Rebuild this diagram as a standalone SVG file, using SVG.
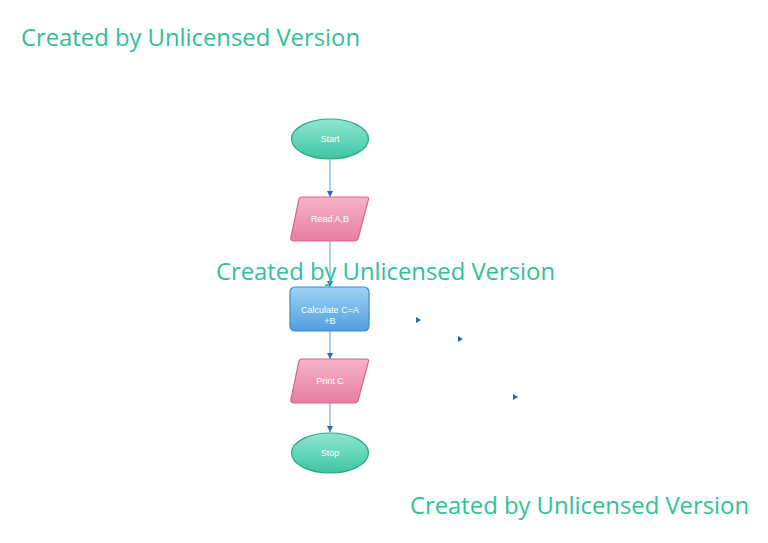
<svg xmlns="http://www.w3.org/2000/svg" width="768" height="543" viewBox="0 0 768 543">
<defs>
<linearGradient id="gT" x1="0" y1="0" x2="0" y2="1"><stop offset="0" stop-color="#8fe6d0"/><stop offset="1" stop-color="#3cc6a2"/></linearGradient>
<linearGradient id="gP" x1="0" y1="0" x2="0" y2="1"><stop offset="0" stop-color="#f6b3c9"/><stop offset="1" stop-color="#e57fa1"/></linearGradient>
<linearGradient id="gB" x1="0" y1="0" x2="0" y2="1"><stop offset="0" stop-color="#9fd2f4"/><stop offset="1" stop-color="#4f9fe0"/></linearGradient>
<marker id="ah" markerWidth="8" markerHeight="8" refX="6" refY="3" orient="auto" markerUnits="userSpaceOnUse"><path d="M0,0 L6,3 L0,6 Z" fill="#2a68a8"/></marker>
</defs>
<style>
.wm{font-family:"Open Sans","Liberation Sans",sans-serif;font-size:24px;fill:#2fc199}
.lbl{font-family:"Liberation Sans",Arial,sans-serif;font-size:9px;fill:#ffffff;text-anchor:middle}
.cn{stroke:#5c9ccc;stroke-width:1;fill:none}
.sh{stroke-width:1.2}
</style>
<rect width="768" height="543" fill="#ffffff"/>
<g id="connectors">
<line class="cn" x1="330" y1="160" x2="330" y2="197" marker-end="url(#ah)"/>
<line class="cn" x1="330" y1="241" x2="330" y2="287" marker-end="url(#ah)"/>
<line class="cn" x1="330" y1="331" x2="330" y2="359" marker-end="url(#ah)"/>
<line class="cn" x1="330" y1="403" x2="330" y2="432" marker-end="url(#ah)"/>
<path d="M416,317 L421,320 L416,323 Z" fill="#2a68a8"/>
<path d="M458,336 L463,339 L458,342 Z" fill="#2a68a8"/>
<path d="M513,394 L518,397 L513,400 Z" fill="#2a68a8"/>
</g>
<g id="start">
<ellipse cx="330" cy="139" rx="38.5" ry="20" fill="url(#gT)" stroke="#2aa886" class="sh"/>
<text class="lbl" x="330" y="142">Start</text>
</g>
<g id="read">
<path d="M301,197 L366,197 Q370,197 368,201 L358,239 Q357,241 354,241 L294,241 Q290,241 291,237 L299,199 Q300,197 301,197 Z" fill="url(#gP)" stroke="#d8648c" class="sh"/>
<text class="lbl" x="330" y="222">Read A,B</text>
</g>
<g id="calc">
<rect x="290" y="287" width="79" height="44" rx="5" fill="url(#gB)" stroke="#3a88cc" class="sh"/>
<text class="lbl" x="330" y="313">Calculate C=A</text>
<text class="lbl" x="330" y="324">+B</text>
</g>
<g id="print">
<path d="M301,359 L366,359 Q370,359 368,363 L358,401 Q357,403 354,403 L294,403 Q290,403 291,399 L299,361 Q300,359 301,359 Z" fill="url(#gP)" stroke="#d8648c" class="sh"/>
<text class="lbl" x="330" y="384">Print C</text>
</g>
<g id="stop">
<ellipse cx="330" cy="453" rx="38.5" ry="20" fill="url(#gT)" stroke="#2aa886" class="sh"/>
<text class="lbl" x="330" y="456">Stop</text>
</g>
<g id="watermarks">
<text class="wm" x="21" y="46" textLength="339" lengthAdjust="spacingAndGlyphs">Created by Unlicensed Version</text>
<text class="wm" x="216" y="280" textLength="339" lengthAdjust="spacingAndGlyphs">Created by Unlicensed Version</text>
<text class="wm" x="410" y="514" textLength="339" lengthAdjust="spacingAndGlyphs">Created by Unlicensed Version</text>
</g>
</svg>
